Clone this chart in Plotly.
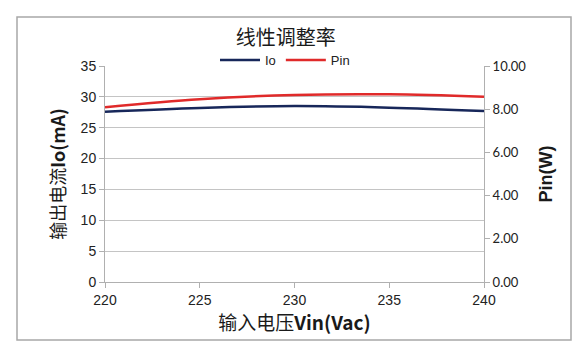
import plotly.graph_objects as go

vin = [220, 225, 230, 235, 240]
io_ma = [27.6, 28.2, 28.5, 28.25, 27.7]
pin_w = [8.09, 8.46, 8.66, 8.69, 8.58]

W, H = 579, 352
L, R, T, B = 105, 95, 66, 70
pw, ph = W - L - R, H - T - B

def px(x):
    return (x - L) / pw

def py(y):
    return (H - B - y) / ph

fig = go.Figure()
fig.add_trace(go.Scatter(x=vin, y=io_ma, name="Io", mode="lines",
                         line=dict(color="#17275a", width=2.5, shape="spline"), yaxis="y"))
fig.add_trace(go.Scatter(x=vin, y=pin_w, name="Pin", mode="lines",
                         line=dict(color="#e02a2a", width=2.5, shape="spline"), yaxis="y2"))

fig.update_layout(
    width=W, height=H,
    margin=dict(l=L, r=R, t=T, b=B),
    paper_bgcolor="white", plot_bgcolor="white",
    title=dict(text="线性调整率", x=px(292), xanchor="center", y=1 - 38 / H, yanchor="middle",
               font=dict(family="Noto Sans CJK SC", size=20, color="#1a1a1a")),
    legend=dict(orientation="h", x=px(285), xanchor="center", y=py(60), yanchor="middle",
                font=dict(family="Liberation Sans", size=13, color="#222"),
                bgcolor="rgba(0,0,0,0)", itemwidth=40, tracegroupgap=0),
    showlegend=True,
    xaxis=dict(range=[220, 240], tickvals=[220, 225, 230, 235, 240], showgrid=False,
               showline=True, linecolor="#b0b0b0", linewidth=1, ticks="outside", ticklen=5,
               tickcolor="#b0b0b0", zeroline=False,
               tickfont=dict(family="Liberation Sans", size=14, color="#222"),
               title=dict(text="输入电压<b>Vin(Vac)</b>", standoff=8,
                          font=dict(family="Noto Sans CJK SC", size=19, color="#1a1a1a"))),
    yaxis=dict(range=[0, 35], tickvals=[0, 5, 10, 15, 20, 25, 30, 35], showgrid=True,
               gridcolor="#c4c4c4", gridwidth=1, showline=True, linecolor="#b0b0b0",
               ticks="outside", ticklen=5, tickcolor="#b0b0b0", zeroline=False,
               tickfont=dict(family="Liberation Sans", size=14, color="#222"),
               title=dict(text="输出电流<b>Io(mA)</b>", standoff=10,
                          font=dict(family="Noto Sans CJK SC", size=18, color="#1a1a1a"))),
    yaxis2=dict(range=[0, 10], tickvals=[0, 2, 4, 6, 8, 10], tickformat=".2f",
                overlaying="y", side="right", showgrid=False, showline=True,
                linecolor="#b0b0b0", ticks="outside", ticklen=5, tickcolor="#b0b0b0",
                zeroline=False,
                tickfont=dict(family="Lato", size=13, color="#222"),
                title=dict(text="<b>Pin(W)</b>", standoff=14,
                           font=dict(family="Liberation Sans", size=18, color="#1a1a1a"))),
    shapes=[dict(type="rect", xref="paper", yref="paper",
                 x0=px(17), x1=px(571), y0=py(340), y1=py(17),
                 line=dict(color="#a8a8a8", width=1.5), fillcolor="rgba(0,0,0,0)", layer="below")],
)

fig.write_html("out.html")
